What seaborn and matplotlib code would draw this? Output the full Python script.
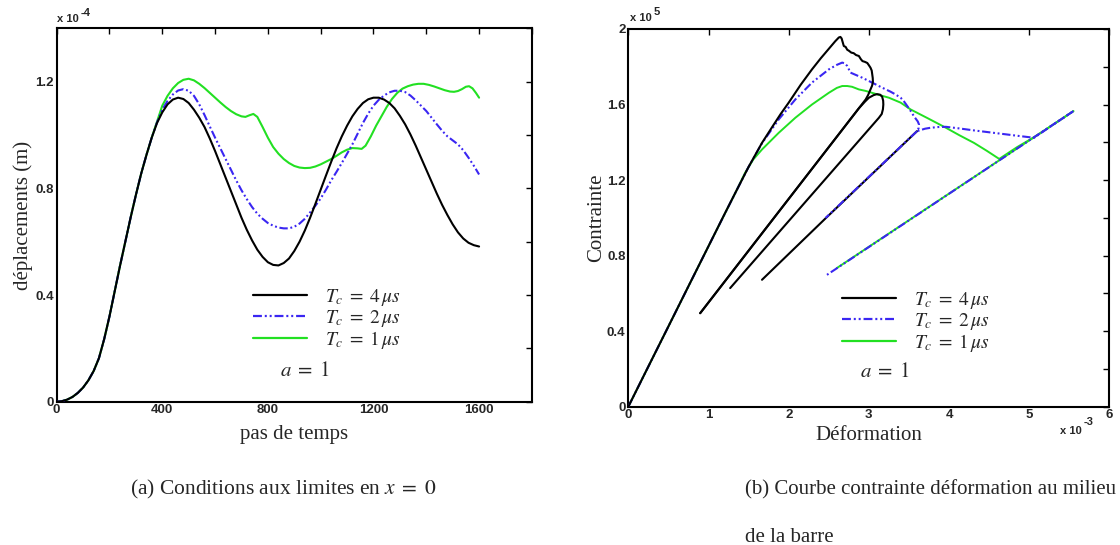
import matplotlib
matplotlib.use("Agg")
import matplotlib.pyplot as plt
import pandas as pd
import seaborn as sns
from matplotlib.lines import Line2D
from matplotlib.ticker import FixedLocator, NullFormatter

# ---------------- data : (a) displacement vs time step (x 1e-4 m) ----------------
steps_4us = [0, 20, 40, 60, 80, 100, 120, 140, 160, 180, 200, 220, 240, 260, 280, 300,
             320, 340, 360, 380, 400, 420, 440, 460, 480, 500, 520, 540, 560, 580, 600,
             620, 640, 660, 680, 700, 720, 740, 760, 780, 800, 820, 840, 860, 880, 900,
             920, 940, 960, 980, 1000, 1020, 1040, 1060, 1080, 1100, 1120, 1140, 1160,
             1180, 1200, 1220, 1240, 1260, 1280, 1300, 1320, 1340, 1360, 1380, 1400,
             1420, 1440, 1460, 1480, 1500, 1520, 1540, 1560, 1580, 1600]
disp_4us = [0, 0.002, 0.008, 0.018, 0.033, 0.053, 0.08, 0.115, 0.163, 0.235, 0.32, 0.415,
            0.51, 0.60, 0.69, 0.775, 0.855, 0.925, 0.99, 1.045, 1.085, 1.115, 1.133, 1.14,
            1.135, 1.12, 1.095, 1.065, 1.03, 0.987, 0.94, 0.89, 0.84, 0.79, 0.74, 0.69,
            0.645, 0.605, 0.57, 0.543, 0.523, 0.513, 0.511, 0.52, 0.537, 0.565, 0.60,
            0.642, 0.69, 0.742, 0.795, 0.848, 0.90, 0.95, 0.995, 1.035, 1.07, 1.098,
            1.12, 1.134, 1.14, 1.14, 1.133, 1.12, 1.10, 1.072, 1.04, 1.002, 0.96, 0.915,
            0.87, 0.825, 0.78, 0.738, 0.70, 0.665, 0.635, 0.612, 0.596, 0.587, 0.582]

steps_2us = steps_4us
disp_2us = [0, 0.002, 0.008, 0.018, 0.033, 0.053, 0.08, 0.115, 0.163, 0.235, 0.32, 0.415,
            0.51, 0.60, 0.69, 0.775, 0.855, 0.925, 0.99, 1.047, 1.095, 1.128, 1.152,
            1.167, 1.172, 1.166, 1.147, 1.115, 1.075, 1.032, 0.99, 0.95, 0.91, 0.87,
            0.83, 0.793, 0.76, 0.73, 0.705, 0.686, 0.67, 0.66, 0.653, 0.65, 0.65, 0.656,
            0.668, 0.686, 0.71, 0.735, 0.762, 0.795, 0.83, 0.862, 0.895, 0.93, 0.965,
            1.005, 1.045, 1.08, 1.11, 1.132, 1.148, 1.16, 1.166, 1.166, 1.161, 1.148,
            1.13, 1.11, 1.09, 1.065, 1.04, 1.016, 0.995, 0.98, 0.965, 0.943, 0.915,
            0.885, 0.852]

steps_1us = [0, 20, 40, 60, 80, 100, 120, 140, 160, 180, 200, 220, 240, 260, 280, 300,
             320, 340, 360, 380, 400, 420, 440, 460, 480, 500, 520, 540, 560, 580, 600,
             620, 640, 660, 680, 700, 715, 730, 745, 760, 780, 800, 820, 840, 860, 880,
             900, 920, 940, 960, 980, 1000, 1020, 1040, 1060, 1080, 1100, 1120, 1140,
             1155, 1170, 1190, 1210, 1230, 1250, 1270, 1290, 1310, 1330, 1350, 1370,
             1390, 1410, 1430, 1450, 1470, 1490, 1505, 1520, 1535, 1550, 1562, 1575,
             1588, 1600]
disp_1us = [0, 0.002, 0.008, 0.018, 0.033, 0.053, 0.08, 0.115, 0.163, 0.235, 0.32, 0.415,
            0.51, 0.60, 0.69, 0.775, 0.855, 0.925, 0.99, 1.05, 1.11, 1.147, 1.175, 1.195,
            1.207, 1.211, 1.205, 1.192, 1.176, 1.158, 1.14, 1.122, 1.105, 1.09, 1.078,
            1.07, 1.068, 1.074, 1.079, 1.068, 1.03, 0.99, 0.955, 0.93, 0.91, 0.895,
            0.884, 0.878, 0.876, 0.877, 0.882, 0.89, 0.90, 0.91, 0.922, 0.935, 0.945,
            0.951, 0.95, 0.948, 0.96, 0.995, 1.035, 1.07, 1.105, 1.135, 1.158, 1.174,
            1.183, 1.189, 1.192, 1.192, 1.188, 1.182, 1.175, 1.168, 1.163, 1.162, 1.165,
            1.172, 1.181, 1.183, 1.175, 1.158, 1.14]

# ---------------- data : (b) stress (x 1e5) vs strain (x 1e-3) ----------------
strain_4us = [0, 0.25, 0.5, 0.75, 1.0, 1.2, 1.334, 1.5, 1.667, 1.8, 1.9, 2.0, 2.15, 2.29,
              2.4, 2.5, 2.58, 2.625, 2.645, 2.66, 2.67, 2.687, 2.71, 2.73, 2.75, 2.78,
              2.81, 2.84, 2.875, 2.9, 2.92, 2.95, 2.98, 3.0, 3.02, 3.035, 3.04, 3.048,
              3.05, 3.04, 3.02, 2.99, 2.96, 0.896,
              0.896, 2.875, 2.95, 3.0, 3.06, 3.1, 3.14, 3.165, 3.178, 3.18, 3.175, 3.16,
              3.125, 1.27]
stress_4us = [0, 0.213, 0.425, 0.638, 0.85, 1.02, 1.132, 1.27, 1.397, 1.485, 1.55, 1.61,
              1.705, 1.786, 1.845, 1.895, 1.935, 1.955, 1.958, 1.95, 1.935, 1.91, 1.905,
              1.89, 1.885, 1.875, 1.872, 1.862, 1.857, 1.84, 1.83, 1.826, 1.82, 1.808,
              1.795, 1.78, 1.765, 1.74, 1.72, 1.70, 1.68, 1.65, 1.627, 0.495,
              0.495, 1.58, 1.615, 1.636, 1.65, 1.655, 1.652, 1.642, 1.62, 1.60, 1.575,
              1.55, 1.53, 0.628]
branch_4us = [0] * 44 + [1] * 14
strain_4us_c = [1.667, 2.459, 3.6]
stress_4us_c = [0.672, 0.997, 1.459]

strain_2us = [0, 0.5, 1.0, 1.334, 1.5, 1.667, 1.875, 2.083, 2.29, 2.5, 2.6, 2.667, 2.70,
              2.73, 2.77, 2.83, 2.917, 3.04, 3.167, 3.27, 3.33, 3.396, 3.44, 3.48, 3.53,
              3.56, 3.61, 3.625, 3.62, 3.6, 3.7, 3.77, 3.87, 3.96, 4.1, 4.31, 4.52, 4.73,
              4.9, 5.06, 5.3, 5.55,
              3.6, 2.459,
              5.55, 2.459]
stress_2us = [0, 0.425, 0.85, 1.132, 1.27, 1.395, 1.521, 1.627, 1.716, 1.786, 1.81,
              1.822, 1.818, 1.804, 1.769, 1.758, 1.742, 1.716, 1.689, 1.668, 1.654, 1.636,
              1.615, 1.591, 1.56, 1.539, 1.51, 1.494, 1.475, 1.459, 1.472, 1.477, 1.481,
              1.482, 1.475, 1.463, 1.452, 1.441, 1.432, 1.424, 1.494, 1.565,
              1.459, 0.999,
              1.565, 0.693]
branch_2us = [0] * 42 + [1] * 2 + [2] * 2

strain_1us = [0, 0.5, 1.0, 1.334, 1.458, 1.56, 1.667, 1.875, 2.083, 2.29, 2.5, 2.6,
              2.667, 2.73, 2.79, 2.875, 2.96, 3.04, 3.15, 3.25, 3.396, 3.52, 3.74, 3.96,
              4.13, 4.31, 4.47, 4.625, 4.85, 5.06, 5.3, 5.55,
              5.55, 2.6]
stress_1us = [0, 0.425, 0.85, 1.132, 1.24, 1.31, 1.362, 1.45, 1.53, 1.6, 1.662, 1.688,
              1.698, 1.698, 1.694, 1.68, 1.672, 1.662, 1.648, 1.636, 1.61, 1.574, 1.526,
              1.477, 1.437, 1.397, 1.355, 1.312, 1.375, 1.427, 1.494, 1.565,
              1.565, 0.734]
branch_1us = [0] * 32 + [1] * 2

legend_labels = [r"$T_c\;=\;4\,\mu s$", r"$T_c\;=\;2\,\mu s$", r"$T_c\;=\;1\,\mu s$"]

xt_a_major = [0, 400, 800, 1200, 1600]
xt_a_minor = [200, 600, 1000, 1400, 1800]
yt_a_major = [0, 0.4, 0.8, 1.2]
yt_a_labels = ["0", "0.4", "0.8", "1.2"]
yt_a_minor = [0.2, 0.6, 1.0, 1.4]
xt_b_major = [0, 1, 2, 3, 4, 5, 6]
yt_b_major = [0, 0.4, 0.8, 1.2, 1.6, 2.0]
yt_b_labels = ["0", "0.4", "0.8", "1.2", "1.6", "2"]
yt_b_minor = [0.2, 0.6, 1.0, 1.4, 1.8]

# ---------------- style ----------------
sns.set_style("white")
plt.rcParams["font.family"] = ["Liberation Serif", "DejaVu Serif"]
plt.rcParams["mathtext.fontset"] = "stix"

BLACK = "#000000"
BLUE = "#3a26f2"
GREEN = "#22e022"
DASHDOT = (0, (4, 1.3, 0.9, 1.3, 0.9, 1.3))
TICKFONT = dict(family="Liberation Sans", weight="bold", size=9.5)
SMALL = dict(family="Liberation Sans", weight="bold", size=8)

fig = plt.figure(figsize=(11.2, 5.45), dpi=100)
ax1 = fig.add_axes([0.0506, 0.2629, 0.4243, 0.6851])
ax2 = fig.add_axes([0.5610, 0.2538, 0.4296, 0.6930])


def draw(ax, x, y, seg, **kw):
    df = pd.DataFrame({"x": x, "y": y, "seg": seg})
    sns.lineplot(data=df, x="x", y="y", units="seg", estimator=None, sort=False,
                 legend=False, ax=ax, **kw)


# (a)
draw(ax1, steps_1us, disp_1us, [0] * len(steps_1us), color=GREEN, lw=1.5, zorder=2)
draw(ax1, steps_2us, disp_2us, [0] * len(steps_2us), color=BLUE, lw=1.5,
     linestyle=DASHDOT, zorder=3)
draw(ax1, steps_4us, disp_4us, [0] * len(steps_4us), color=BLACK, lw=1.5, zorder=4)

# (b)
draw(ax2, strain_4us_c, stress_4us_c, [0] * len(strain_4us_c), color=BLACK, lw=1.5, zorder=1)
draw(ax2, strain_1us, stress_1us, branch_1us, color=GREEN, lw=1.4, zorder=2)
draw(ax2, strain_2us, stress_2us, branch_2us, color=BLUE, lw=1.5, linestyle=DASHDOT, zorder=3)
draw(ax2, strain_4us, stress_4us, branch_4us, color=BLACK, lw=1.5, zorder=4)


def style_axes(ax, xmaj, xlab, xmin, ymaj, ylab, ymin, xlim, ylim):
    ax.set_xlim(*xlim)
    ax.set_ylim(*ylim)
    ax.xaxis.set_major_locator(FixedLocator(xmaj))
    ax.yaxis.set_major_locator(FixedLocator(ymaj))
    ax.set_xticklabels(xlab, fontdict=TICKFONT)
    ax.set_yticklabels(ylab, fontdict=TICKFONT)
    if xmin:
        ax.xaxis.set_minor_locator(FixedLocator(xmin))
    if ymin:
        ax.yaxis.set_minor_locator(FixedLocator(ymin))
    ax.xaxis.set_minor_formatter(NullFormatter())
    ax.yaxis.set_minor_formatter(NullFormatter())
    ax.tick_params(which="both", direction="in", top=True, right=True, length=4,
                   width=1.0, color="black")
    ax.tick_params(axis="x", pad=2)
    ax.tick_params(axis="y", pad=2)
    for s in ax.spines.values():
        s.set_visible(True)
        s.set_linewidth(1.5)
        s.set_color("black")
    ax.grid(False)


style_axes(ax1, xt_a_major, [str(v) for v in xt_a_major], xt_a_minor,
           yt_a_major, yt_a_labels, yt_a_minor, (0, 1800), (0, 1.4))
style_axes(ax2, xt_b_major, [str(v) for v in xt_b_major], None,
           yt_b_major, yt_b_labels, yt_b_minor, (0, 6), (0, 2))

ax1.set_xlabel("pas de temps", fontsize=15)
ax1.set_ylabel("déplacements (m)", fontsize=15)
ax1.xaxis.set_label_coords(0.5, -0.062)
ax1.yaxis.set_label_coords(-0.05, 0.5)
ax2.set_xlabel("Déformation", fontsize=15)
ax2.set_ylabel("Contrainte", fontsize=15)
ax2.xaxis.set_label_coords(0.5, -0.052)
ax2.yaxis.set_label_coords(-0.046, 0.5)

# multiplier annotations
ax1.text(0.0, 1.012, "x 10", transform=ax1.transAxes, ha="left", va="bottom", fontdict=SMALL)
ax1.text(0.05, 1.028, "-4", transform=ax1.transAxes, ha="left", va="bottom", fontdict=SMALL)
ax2.text(0.004, 1.015, "x 10", transform=ax2.transAxes, ha="left", va="bottom", fontdict=SMALL)
ax2.text(0.052, 1.032, "5", transform=ax2.transAxes, ha="left", va="bottom", fontdict=SMALL)
ax2.text(0.898, -0.050, "x 10", transform=ax2.transAxes, ha="left", va="top", fontdict=SMALL)
ax2.text(0.946, -0.028, "-3", transform=ax2.transAxes, ha="left", va="top", fontdict=SMALL)

# legends
handles = [Line2D([], [], color=BLACK, lw=1.6),
           Line2D([], [], color=BLUE, lw=1.6, linestyle=DASHDOT),
           Line2D([], [], color=GREEN, lw=1.6)]
for ax, anchor in ((ax1, (0.413, 0.308)), (ax2, (0.444, 0.31))):
    ax.legend(handles, legend_labels, loc="upper left", bbox_to_anchor=anchor,
              frameon=False, fontsize=14, handlelength=2.8, handletextpad=0.9,
              labelspacing=0.0, borderpad=0, borderaxespad=0)

ax1.text(0.47, 0.08, r"$a\;=\;1$", transform=ax1.transAxes, fontsize=15,
         ha="left", va="center")
ax2.text(0.482, 0.09, r"$a\;=\;1$", transform=ax2.transAxes, fontsize=15,
         ha="left", va="center")

# captions
fig.text(0.2527, 0.101, r"(a) Conditions aux limites en $x\;=\;0$", fontsize=15.5,
         ha="center", va="center")
fig.text(0.665, 0.101, "(b) Courbe contrainte déformation au milieu", fontsize=15,
         ha="left", va="center")
fig.text(0.665, 0.014, "de la barre", fontsize=15, ha="left", va="center")

fig.savefig("out.png", dpi=100)
